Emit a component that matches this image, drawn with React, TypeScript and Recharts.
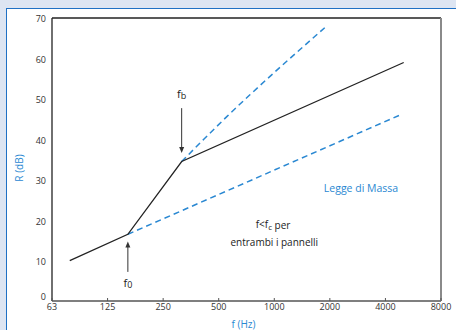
import React from 'react';
import { LineChart, Line, XAxis, YAxis, ReferenceLine, ReferenceDot } from 'recharts';

// Frequencies (Hz) and R (dB)
const massLawLowF = [78, 161, 315, 5025];
const massLawLowR = [10, 16.5, 34.5, 59];
const lowerDashF = [161, 4740];
const lowerDashR = [16.5, 45.9];
const upperDashF = [315, 411, 553, 738, 1876];
const upperDashR = [34.5, 39.8, 45.6, 51.0, 67.6];

const xTicks = [62.5, 125, 250, 500, 1000, 2000, 4000, 8000];
const xTickLabels = ['63', '125', '250', '500', '1000', '2000', '4000', '8000'];
const yTicks = [0, 10, 20, 30, 40, 50, 60, 70];

const solidData = massLawLowF.map((f, i) => ({ f, r: massLawLowR[i] }));
const lowerData = lowerDashF.map((f, i) => ({ f, r: lowerDashR[i] }));
const upperData = upperDashF.map((f, i) => ({ f, r: upperDashR[i] }));

const BLUE = '#2a88d2';
const FONT = '"Open Sans", "Noto Sans", sans-serif';

const Arrow = (props: any) => {
  const { x1, y1, x2, y2 } = props;
  const dir = y2 > y1 ? 1 : -1;
  return (
    <g>
      <line x1={x1} y1={y1} x2={x2} y2={y2 - dir * 4} stroke="#333" strokeWidth={1} />
      <polygon
        points={`${x2},${y2} ${x2 - 2.5},${y2 - dir * 6} ${x2 + 2.5},${y2 - dir * 6}`}
        fill="#333"
      />
    </g>
  );
};

const YTick = (props: any) => {
  const { x, y, payload } = props;
  const off = payload.value === 0 ? -3 : 2;
  return (
    <text x={x} y={y + off} textAnchor="end" dominantBaseline="middle" fontSize={9} fill="#333" fontFamily={FONT}>
      {payload.value}
    </text>
  );
};

const textShape = (label: string, color: string, size: number) => (p: any) => (
  <text x={p.cx} y={p.cy} textAnchor="middle" dominantBaseline="middle" fontSize={size} fill={color} fontFamily={FONT}>
    {label}
  </text>
);

const subShape = (main: string, sub: string, rest: string, size: number) => (p: any) => (
  <text x={p.cx} y={p.cy} textAnchor="middle" dominantBaseline="middle" fontSize={size} fill="#222" fontFamily={FONT}>
    {main}
    <tspan fontSize={size - 2} dy={2.5}>{sub}</tspan>
    {rest ? <tspan dy={-2.5}>{rest}</tspan> : null}
  </text>
);

export default function App() {
  return (
    <div style={{ position: 'relative', width: 456, height: 330, background: '#dde5f2', overflow: 'hidden' }}>
      <style>{`body{margin:0}`}</style>
      <div
        style={{
          position: 'absolute',
          left: 6,
          top: 8,
          width: 450,
          height: 322,
          background: '#fff',
          borderLeft: '1.5px solid #1f70c4',
          borderTop: '1.5px solid #1f70c4',
          boxSizing: 'border-box',
        }}
      />
      <div style={{ position: 'absolute', left: 0, top: 0 }}>
        <LineChart width={456} height={330} margin={{ top: 18, right: 15, bottom: 0, left: 0 }}>
          <XAxis
            dataKey="f"
            type="number"
            scale="log"
            domain={[62.5, 8000]}
            ticks={xTicks}
            allowDataOverflow
            axisLine={false}
            tickSize={-3}
            tickMargin={6}
            tickLine={{ stroke: '#555' }}
            tick={{ fontSize: 9, fill: '#333', fontFamily: FONT }}
            tickFormatter={(v: number) => xTickLabels[xTicks.indexOf(v)] ?? String(v)}
            height={29}
            interval={0}
            label={{ value: 'f (Hz)', position: 'insideBottom', offset: 2, dx: -3, fill: BLUE, fontSize: 10, fontFamily: FONT }}
          />
          <YAxis
            dataKey="r"
            type="number"
            domain={[0, 70]}
            ticks={yTicks}
            axisLine={false}
            tickLine={false}
            tickSize={0}
            tickMargin={6}
            width={52}
            tick={<YTick />}
            interval={0}
            label={{
              content: () => (
                <text x={20} y={168} transform="rotate(-90 20 168)" textAnchor="middle" dominantBaseline="middle" fontSize={10} fill={BLUE} fontFamily={FONT}>
                  R (dB)
                </text>
              ),
            }}
          />
          <ReferenceLine y={70} stroke="#222" strokeWidth={1.3} ifOverflow="visible" />
          <ReferenceLine x={62.5} stroke="#222" strokeWidth={1.3} ifOverflow="visible" />
          <ReferenceLine y={0} stroke="#555" strokeWidth={1.6} ifOverflow="visible" />
          <ReferenceLine x={8000} stroke="#8a8a8a" strokeWidth={2} ifOverflow="visible" />

          <Line data={lowerData} dataKey="r" stroke={BLUE} strokeWidth={1.5} strokeDasharray="6 4" dot={false} isAnimationActive={false} />
          <Line data={upperData} dataKey="r" stroke={BLUE} strokeWidth={1.5} strokeDasharray="6 4" dot={false} isAnimationActive={false} type="monotone" />
          <Line data={solidData} dataKey="r" stroke="#222" strokeWidth={1.3} dot={false} isAnimationActive={false} />

          <ReferenceLine segment={[{ x: 315, y: 47.7 }, { x: 315, y: 36.6 }]} shape={Arrow} ifOverflow="visible" />
          <ReferenceLine segment={[{ x: 161, y: 7.2 }, { x: 161, y: 14.7 }]} shape={Arrow} ifOverflow="visible" />

          <ReferenceDot x={315} y={51} r={0} shape={subShape('f', 'b', '', 11)} ifOverflow="visible" />
          <ReferenceDot x={161} y={4.3} r={0} shape={subShape('f', '0', '', 11)} ifOverflow="visible" />
          <ReferenceDot x={2950} y={27.7} r={0} shape={textShape('Legge di Massa', BLUE, 10.5)} ifOverflow="visible" />
          <ReferenceDot x={985} y={18.6} r={0} shape={subShape('f<f', 'c', ' per', 10)} ifOverflow="visible" />
          <ReferenceDot x={1000} y={14.2} r={0} shape={textShape('entrambi i pannelli', '#222', 10)} ifOverflow="visible" />
        </LineChart>
      </div>
    </div>
  );
}
